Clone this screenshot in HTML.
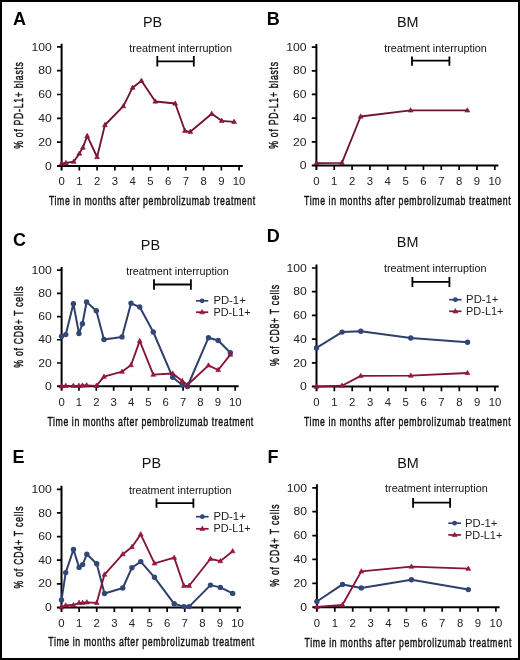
<!DOCTYPE html>
<html><head><meta charset="utf-8"><title>Figure</title>
<style>
html,body{margin:0;padding:0;background:#fff;}
body{width:520px;height:660px;overflow:hidden;}
svg{display:block;will-change:transform;}
text{font-family:"Liberation Sans", sans-serif;fill:#111;}
.let{font-size:18px;font-weight:700;fill:#000;}
.ttl{font-size:14.4px;fill:#111;}
.tk{font-size:10.6px;fill:#222;}
.lab{font-size:13.6px;fill:#111;stroke:#111;stroke-width:0.45px;}
.ti{font-size:10.8px;fill:#111;}
.lg{font-size:11.3px;fill:#222;}
.ax{stroke:#000;stroke-width:2;fill:none;}
.tick{stroke:#000;stroke-width:1.7;fill:none;}
.br{stroke:#000;stroke-width:1.8;fill:none;}
</style></head>
<body><svg width="520" height="660" viewBox="0 0 520 660">
<rect x="0" y="0" width="520" height="660" fill="#fff"/>
<g id="pA"><text x="13.1" y="24.5" class="let">A</text>
<text x="152.5" y="26.5" class="ttl" text-anchor="middle">PB</text>
<path class="ax" d="M61.6 43.8 V170.5 M57 165.9 H242.8"/>
<text transform="translate(51.8 169.6) scale(1.15 1)" class="tk" text-anchor="end">0</text>
<text transform="translate(51.8 145.8) scale(1.15 1)" class="tk" text-anchor="end">20</text>
<text transform="translate(51.8 122) scale(1.15 1)" class="tk" text-anchor="end">40</text>
<text transform="translate(51.8 98.2) scale(1.15 1)" class="tk" text-anchor="end">60</text>
<text transform="translate(51.8 74.4) scale(1.15 1)" class="tk" text-anchor="end">80</text>
<text transform="translate(51.8 50.6) scale(1.15 1)" class="tk" text-anchor="end">100</text>
<text transform="translate(61.6 185.2) scale(1.07 1)" class="tk" text-anchor="middle">0</text>
<text transform="translate(79.35 185.2) scale(1.07 1)" class="tk" text-anchor="middle">1</text>
<text transform="translate(97.1 185.2) scale(1.07 1)" class="tk" text-anchor="middle">2</text>
<text transform="translate(114.85 185.2) scale(1.07 1)" class="tk" text-anchor="middle">3</text>
<text transform="translate(132.6 185.2) scale(1.07 1)" class="tk" text-anchor="middle">4</text>
<text transform="translate(150.35 185.2) scale(1.07 1)" class="tk" text-anchor="middle">5</text>
<text transform="translate(168.1 185.2) scale(1.07 1)" class="tk" text-anchor="middle">6</text>
<text transform="translate(185.85 185.2) scale(1.07 1)" class="tk" text-anchor="middle">7</text>
<text transform="translate(203.6 185.2) scale(1.07 1)" class="tk" text-anchor="middle">8</text>
<text transform="translate(221.35 185.2) scale(1.07 1)" class="tk" text-anchor="middle">9</text>
<text transform="translate(239.1 185.2) scale(1.07 1)" class="tk" text-anchor="middle">10</text>
<path class="tick" d="M57 142.1 H61.6 M57 118.3 H61.6 M57 94.5 H61.6 M57 70.7 H61.6 M57 46.9 H61.6 M79.35 165.9 V170.5 M97.1 165.9 V170.5 M114.85 165.9 V170.5 M132.6 165.9 V170.5 M150.35 165.9 V170.5 M168.1 165.9 V170.5 M185.85 165.9 V170.5 M203.6 165.9 V170.5 M221.35 165.9 V170.5 M239.1 165.9 V170.5"/>
<text transform="translate(48.9 204.9) scale(0.64 1)" class="lab" textLength="322.19" lengthAdjust="spacing">Time in months after pembrolizumab treatment</text>
<text transform="translate(23.4 148.7) rotate(-90) scale(0.64 1)" class="lab" textLength="135.31" lengthAdjust="spacing">% of PD-L1+ blasts</text>
<text x="129.3" y="51.5" class="ti">treatment interruption</text>
<path class="br" d="M157.3 56.1 V66.5 M193.8 56.1 V66.5 M157.3 61.3 H193.8"/>
<path d="M61.6 163.7 L65.86 163 L73.67 161.7 L79.35 153.6 L82.9 147.6 L87.16 135.9 L97.1 157 L104.91 125 L123.37 106.2 L132.6 87.7 L141.47 80.8 L155.32 101.5 L175.2 103.5 L184.96 130.8 L190.29 131.8 L211.77 113.8 L221.7 120.8 L234.13 121.8" fill="none" stroke="#731333" stroke-width="1.85" stroke-linejoin="round"/>
<g fill="#8c1b3f" stroke="#731333" stroke-width="0.6"><path d="M61.6 161.02 L64 165.34 L59.2 165.34 Z"/><path d="M65.86 160.32 L68.26 164.64 L63.46 164.64 Z"/><path d="M73.67 159.02 L76.07 163.34 L71.27 163.34 Z"/><path d="M79.35 150.92 L81.75 155.24 L76.95 155.24 Z"/><path d="M82.9 144.92 L85.3 149.24 L80.5 149.24 Z"/><path d="M87.16 133.22 L89.56 137.54 L84.76 137.54 Z"/><path d="M97.1 154.32 L99.5 158.64 L94.7 158.64 Z"/><path d="M104.91 122.32 L107.31 126.64 L102.51 126.64 Z"/><path d="M123.37 103.52 L125.77 107.84 L120.97 107.84 Z"/><path d="M132.6 85.02 L135 89.34 L130.2 89.34 Z"/><path d="M141.47 78.12 L143.88 82.44 L139.07 82.44 Z"/><path d="M155.32 98.82 L157.72 103.14 L152.92 103.14 Z"/><path d="M175.2 100.82 L177.6 105.14 L172.8 105.14 Z"/><path d="M184.96 128.12 L187.36 132.44 L182.56 132.44 Z"/><path d="M190.29 129.12 L192.69 133.44 L187.89 133.44 Z"/><path d="M211.77 111.12 L214.17 115.44 L209.37 115.44 Z"/><path d="M221.7 118.12 L224.1 122.44 L219.3 122.44 Z"/><path d="M234.13 119.12 L236.53 123.44 L231.73 123.44 Z"/></g></g>
<g id="pB"><text x="266.8" y="24.5" class="let">B</text>
<text x="407.7" y="26.5" class="ttl" text-anchor="middle">BM</text>
<path class="ax" d="M316.4 44.1 V170.1 M311.8 165.5 H498.4"/>
<text transform="translate(306.6 169.2) scale(1.15 1)" class="tk" text-anchor="end">0</text>
<text transform="translate(306.6 145.52) scale(1.15 1)" class="tk" text-anchor="end">20</text>
<text transform="translate(306.6 121.84) scale(1.15 1)" class="tk" text-anchor="end">40</text>
<text transform="translate(306.6 98.16) scale(1.15 1)" class="tk" text-anchor="end">60</text>
<text transform="translate(306.6 74.48) scale(1.15 1)" class="tk" text-anchor="end">80</text>
<text transform="translate(306.6 50.8) scale(1.15 1)" class="tk" text-anchor="end">100</text>
<text transform="translate(316.4 184.8) scale(1.07 1)" class="tk" text-anchor="middle">0</text>
<text transform="translate(334.24 184.8) scale(1.07 1)" class="tk" text-anchor="middle">1</text>
<text transform="translate(352.08 184.8) scale(1.07 1)" class="tk" text-anchor="middle">2</text>
<text transform="translate(369.92 184.8) scale(1.07 1)" class="tk" text-anchor="middle">3</text>
<text transform="translate(387.76 184.8) scale(1.07 1)" class="tk" text-anchor="middle">4</text>
<text transform="translate(405.6 184.8) scale(1.07 1)" class="tk" text-anchor="middle">5</text>
<text transform="translate(423.44 184.8) scale(1.07 1)" class="tk" text-anchor="middle">6</text>
<text transform="translate(441.28 184.8) scale(1.07 1)" class="tk" text-anchor="middle">7</text>
<text transform="translate(459.12 184.8) scale(1.07 1)" class="tk" text-anchor="middle">8</text>
<text transform="translate(476.96 184.8) scale(1.07 1)" class="tk" text-anchor="middle">9</text>
<text transform="translate(494.8 184.8) scale(1.07 1)" class="tk" text-anchor="middle">10</text>
<path class="tick" d="M311.8 141.82 H316.4 M311.8 118.14 H316.4 M311.8 94.46 H316.4 M311.8 70.78 H316.4 M311.8 47.1 H316.4 M334.24 165.5 V170.1 M352.08 165.5 V170.1 M369.92 165.5 V170.1 M387.76 165.5 V170.1 M405.6 165.5 V170.1 M423.44 165.5 V170.1 M441.28 165.5 V170.1 M459.12 165.5 V170.1 M476.96 165.5 V170.1 M494.8 165.5 V170.1"/>
<text transform="translate(304.1 205.1) scale(0.64 1)" class="lab" textLength="322.81" lengthAdjust="spacing">Time in months after pembrolizumab treatment</text>
<text transform="translate(278.2 148.7) rotate(-90) scale(0.64 1)" class="lab" textLength="135.47" lengthAdjust="spacing">% of PD-L1+ blasts</text>
<text x="384.2" y="51.5" class="ti">treatment interruption</text>
<path class="br" d="M412 56.5 V65.7 M449.4 56.5 V65.7 M412 60.6 H449.4"/>
<path d="M316.4 163.2 L341.91 162.8 L360.64 116.5 L410.6 110.4 L467.33 110.4" fill="none" stroke="#731333" stroke-width="1.85" stroke-linejoin="round"/>
<g fill="#8c1b3f" stroke="#731333" stroke-width="0.6"><path d="M316.4 160.52 L318.8 164.84 L314 164.84 Z"/><path d="M341.91 160.12 L344.31 164.44 L339.51 164.44 Z"/><path d="M360.64 113.82 L363.04 118.14 L358.24 118.14 Z"/><path d="M410.6 107.72 L413 112.04 L408.2 112.04 Z"/><path d="M467.33 107.72 L469.73 112.04 L464.93 112.04 Z"/></g></g>
<g id="pC"><text x="13.1" y="245.5" class="let">C</text>
<text x="150.4" y="250.4" class="ttl" text-anchor="middle">PB</text>
<path class="ax" d="M61.6 266.9 V390.8 M57 386.2 H238.6"/>
<text transform="translate(51.8 389.9) scale(1.15 1)" class="tk" text-anchor="end">0</text>
<text transform="translate(51.8 366.68) scale(1.15 1)" class="tk" text-anchor="end">20</text>
<text transform="translate(51.8 343.46) scale(1.15 1)" class="tk" text-anchor="end">40</text>
<text transform="translate(51.8 320.24) scale(1.15 1)" class="tk" text-anchor="end">60</text>
<text transform="translate(51.8 297.02) scale(1.15 1)" class="tk" text-anchor="end">80</text>
<text transform="translate(51.8 273.8) scale(1.15 1)" class="tk" text-anchor="end">100</text>
<text transform="translate(61.6 405.5) scale(1.07 1)" class="tk" text-anchor="middle">0</text>
<text transform="translate(78.96 405.5) scale(1.07 1)" class="tk" text-anchor="middle">1</text>
<text transform="translate(96.32 405.5) scale(1.07 1)" class="tk" text-anchor="middle">2</text>
<text transform="translate(113.68 405.5) scale(1.07 1)" class="tk" text-anchor="middle">3</text>
<text transform="translate(131.04 405.5) scale(1.07 1)" class="tk" text-anchor="middle">4</text>
<text transform="translate(148.4 405.5) scale(1.07 1)" class="tk" text-anchor="middle">5</text>
<text transform="translate(165.76 405.5) scale(1.07 1)" class="tk" text-anchor="middle">6</text>
<text transform="translate(183.12 405.5) scale(1.07 1)" class="tk" text-anchor="middle">7</text>
<text transform="translate(200.48 405.5) scale(1.07 1)" class="tk" text-anchor="middle">8</text>
<text transform="translate(217.84 405.5) scale(1.07 1)" class="tk" text-anchor="middle">9</text>
<text transform="translate(235.2 405.5) scale(1.07 1)" class="tk" text-anchor="middle">10</text>
<path class="tick" d="M57 362.98 H61.6 M57 339.76 H61.6 M57 316.54 H61.6 M57 293.32 H61.6 M57 270.1 H61.6 M78.96 386.2 V390.8 M96.32 386.2 V390.8 M113.68 386.2 V390.8 M131.04 386.2 V390.8 M148.4 386.2 V390.8 M165.76 386.2 V390.8 M183.12 386.2 V390.8 M200.48 386.2 V390.8 M217.84 386.2 V390.8 M235.2 386.2 V390.8"/>
<text transform="translate(47.4 425.9) scale(0.64 1)" class="lab" textLength="321.72" lengthAdjust="spacing">Time in months after pembrolizumab treatment</text>
<text transform="translate(22.9 367.7) rotate(-90) scale(0.64 1)" class="lab" textLength="127.03" lengthAdjust="spacing">% of CD8+ T cells</text>
<text x="126.2" y="274.6" class="ti">treatment interruption</text>
<path class="br" d="M154 279.3 V289.7 M190.9 279.3 V289.7 M154 284.5 H190.9"/>
<path d="M61.6 336.2 L65.77 334.6 L73.4 303.8 L78.96 333.5 L82.43 323.8 L86.6 302 L96.32 310.8 L103.96 339.5 L122.01 336.9 L131.04 303.3 L139.72 307 L153.26 332 L172.7 377.3 L182.25 385 L187.46 386.5 L208.47 337.7 L218.19 340.5 L230.34 352.7" fill="none" stroke="#2e416b" stroke-width="2" stroke-linejoin="round"/>
<g fill="#324678"><circle cx="61.6" cy="336.2" r="2.7"/><circle cx="65.77" cy="334.6" r="2.7"/><circle cx="73.4" cy="303.8" r="2.7"/><circle cx="78.96" cy="333.5" r="2.7"/><circle cx="82.43" cy="323.8" r="2.7"/><circle cx="86.6" cy="302" r="2.7"/><circle cx="96.32" cy="310.8" r="2.7"/><circle cx="103.96" cy="339.5" r="2.7"/><circle cx="122.01" cy="336.9" r="2.7"/><circle cx="131.04" cy="303.3" r="2.7"/><circle cx="139.72" cy="307" r="2.7"/><circle cx="153.26" cy="332" r="2.7"/><circle cx="172.7" cy="377.3" r="2.7"/><circle cx="182.25" cy="385" r="2.7"/><circle cx="187.46" cy="386.5" r="2.7"/><circle cx="208.47" cy="337.7" r="2.7"/><circle cx="218.19" cy="340.5" r="2.7"/><circle cx="230.34" cy="352.7" r="2.7"/></g>
<path d="M61.6 386.2 L65.77 385.8 L73.4 385.8 L78.96 385.8 L82.43 385.5 L86.6 385.3 L96.32 385.8 L103.96 376.7 L122.01 371.7 L131.04 365.1 L139.72 340.9 L153.26 374.7 L172.7 373.5 L182.25 381 L187.46 385 L208.47 365.4 L218.19 370 L230.34 354.6" fill="none" stroke="#88123a" stroke-width="1.85" stroke-linejoin="round"/>
<g fill="#a6163f" stroke="#88123a" stroke-width="0.6"><path d="M61.6 383.52 L64 387.84 L59.2 387.84 Z"/><path d="M65.77 383.12 L68.17 387.44 L63.37 387.44 Z"/><path d="M73.4 383.12 L75.8 387.44 L71 387.44 Z"/><path d="M78.96 383.12 L81.36 387.44 L76.56 387.44 Z"/><path d="M82.43 382.82 L84.83 387.14 L80.03 387.14 Z"/><path d="M86.6 382.62 L89 386.94 L84.2 386.94 Z"/><path d="M96.32 383.12 L98.72 387.44 L93.92 387.44 Z"/><path d="M103.96 374.02 L106.36 378.34 L101.56 378.34 Z"/><path d="M122.01 369.02 L124.41 373.34 L119.61 373.34 Z"/><path d="M131.04 362.42 L133.44 366.74 L128.64 366.74 Z"/><path d="M139.72 338.22 L142.12 342.54 L137.32 342.54 Z"/><path d="M153.26 372.02 L155.66 376.34 L150.86 376.34 Z"/><path d="M172.7 370.82 L175.1 375.14 L170.3 375.14 Z"/><path d="M182.25 378.32 L184.65 382.64 L179.85 382.64 Z"/><path d="M187.46 382.32 L189.86 386.64 L185.06 386.64 Z"/><path d="M208.47 362.72 L210.87 367.04 L206.07 367.04 Z"/><path d="M218.19 367.32 L220.59 371.64 L215.79 371.64 Z"/><path d="M230.34 351.92 L232.74 356.24 L227.94 356.24 Z"/></g>
<path d="M196 300.8 H208.2" stroke="#2e416b" stroke-width="1.7"/>
<circle cx="202.1" cy="300.8" r="2.4" fill="#324678"/>
<path d="M196 312.2 H208.2" stroke="#88123a" stroke-width="1.7"/>
<g fill="#a6163f" stroke="#88123a" stroke-width="0.6"><path d="M202.1 309.52 L204.5 313.84 L199.7 313.84 Z"/></g>
<text x="213.4" y="304.4" class="lg">PD-1+</text>
<text x="213.4" y="315.8" class="lg" textLength="37.3" lengthAdjust="spacingAndGlyphs">PD-L1+</text></g>
<g id="pD"><text x="266.8" y="241.9" class="let">D</text>
<text x="407.6" y="247.4" class="ttl" text-anchor="middle">BM</text>
<path class="ax" d="M316.5 264.4 V391.2 M311.9 386.6 H498.7"/>
<text transform="translate(306.7 390.3) scale(1.15 1)" class="tk" text-anchor="end">0</text>
<text transform="translate(306.7 366.58) scale(1.15 1)" class="tk" text-anchor="end">20</text>
<text transform="translate(306.7 342.86) scale(1.15 1)" class="tk" text-anchor="end">40</text>
<text transform="translate(306.7 319.14) scale(1.15 1)" class="tk" text-anchor="end">60</text>
<text transform="translate(306.7 295.42) scale(1.15 1)" class="tk" text-anchor="end">80</text>
<text transform="translate(306.7 271.7) scale(1.15 1)" class="tk" text-anchor="end">100</text>
<text transform="translate(316.5 405.9) scale(1.07 1)" class="tk" text-anchor="middle">0</text>
<text transform="translate(334.35 405.9) scale(1.07 1)" class="tk" text-anchor="middle">1</text>
<text transform="translate(352.2 405.9) scale(1.07 1)" class="tk" text-anchor="middle">2</text>
<text transform="translate(370.05 405.9) scale(1.07 1)" class="tk" text-anchor="middle">3</text>
<text transform="translate(387.9 405.9) scale(1.07 1)" class="tk" text-anchor="middle">4</text>
<text transform="translate(405.75 405.9) scale(1.07 1)" class="tk" text-anchor="middle">5</text>
<text transform="translate(423.6 405.9) scale(1.07 1)" class="tk" text-anchor="middle">6</text>
<text transform="translate(441.45 405.9) scale(1.07 1)" class="tk" text-anchor="middle">7</text>
<text transform="translate(459.3 405.9) scale(1.07 1)" class="tk" text-anchor="middle">8</text>
<text transform="translate(477.15 405.9) scale(1.07 1)" class="tk" text-anchor="middle">9</text>
<text transform="translate(495 405.9) scale(1.07 1)" class="tk" text-anchor="middle">10</text>
<path class="tick" d="M311.9 362.88 H316.5 M311.9 339.16 H316.5 M311.9 315.44 H316.5 M311.9 291.72 H316.5 M311.9 268 H316.5 M334.35 386.6 V391.2 M352.2 386.6 V391.2 M370.05 386.6 V391.2 M387.9 386.6 V391.2 M405.75 386.6 V391.2 M423.6 386.6 V391.2 M441.45 386.6 V391.2 M459.3 386.6 V391.2 M477.15 386.6 V391.2 M495 386.6 V391.2"/>
<text transform="translate(304 425.9) scale(0.64 1)" class="lab" textLength="322.97" lengthAdjust="spacing">Time in months after pembrolizumab treatment</text>
<text transform="translate(278.8 365.9) rotate(-90) scale(0.64 1)" class="lab" textLength="126.56" lengthAdjust="spacing">% of CD8+ T cells</text>
<text x="383.9" y="272.3" class="ti">treatment interruption</text>
<path class="br" d="M412.4 276.9 V286.9 M449.4 276.9 V286.9 M412.4 281.8 H449.4"/>
<path d="M316.5 347.9 L342.03 332.1 L360.77 331.2 L410.75 338 L467.51 342.2" fill="none" stroke="#2e416b" stroke-width="2" stroke-linejoin="round"/>
<g fill="#324678"><circle cx="316.5" cy="347.9" r="2.7"/><circle cx="342.03" cy="332.1" r="2.7"/><circle cx="360.77" cy="331.2" r="2.7"/><circle cx="410.75" cy="338" r="2.7"/><circle cx="467.51" cy="342.2" r="2.7"/></g>
<path d="M316.5 386.6 L342.03 385.7 L360.77 375.9 L410.75 375.6 L467.51 373" fill="none" stroke="#88123a" stroke-width="1.85" stroke-linejoin="round"/>
<g fill="#a6163f" stroke="#88123a" stroke-width="0.6"><path d="M316.5 383.92 L318.9 388.24 L314.1 388.24 Z"/><path d="M342.03 383.02 L344.43 387.34 L339.63 387.34 Z"/><path d="M360.77 373.22 L363.17 377.54 L358.37 377.54 Z"/><path d="M410.75 372.92 L413.15 377.24 L408.35 377.24 Z"/><path d="M467.51 370.32 L469.91 374.64 L465.11 374.64 Z"/></g>
<path d="M449.2 299.7 H461.5" stroke="#2e416b" stroke-width="1.7"/>
<circle cx="455.35" cy="299.7" r="2.4" fill="#324678"/>
<path d="M449.2 311.3 H461.5" stroke="#88123a" stroke-width="1.7"/>
<g fill="#a6163f" stroke="#88123a" stroke-width="0.6"><path d="M455.35 308.62 L457.75 312.94 L452.95 312.94 Z"/></g>
<text x="466.1" y="303.3" class="lg">PD-1+</text>
<text x="466.1" y="314.9" class="lg" textLength="37.3" lengthAdjust="spacingAndGlyphs">PD-L1+</text></g>
<g id="pE"><text x="12.6" y="462.7" class="let">E</text>
<text x="151.4" y="468.1" class="ttl" text-anchor="middle">PB</text>
<path class="ax" d="M61.5 485.8 V612 M56.9 607.4 H241"/>
<text transform="translate(51.7 611.1) scale(1.15 1)" class="tk" text-anchor="end">0</text>
<text transform="translate(51.7 587.48) scale(1.15 1)" class="tk" text-anchor="end">20</text>
<text transform="translate(51.7 563.86) scale(1.15 1)" class="tk" text-anchor="end">40</text>
<text transform="translate(51.7 540.24) scale(1.15 1)" class="tk" text-anchor="end">60</text>
<text transform="translate(51.7 516.62) scale(1.15 1)" class="tk" text-anchor="end">80</text>
<text transform="translate(51.7 493) scale(1.15 1)" class="tk" text-anchor="end">100</text>
<text transform="translate(61.5 626.7) scale(1.07 1)" class="tk" text-anchor="middle">0</text>
<text transform="translate(79.11 626.7) scale(1.07 1)" class="tk" text-anchor="middle">1</text>
<text transform="translate(96.72 626.7) scale(1.07 1)" class="tk" text-anchor="middle">2</text>
<text transform="translate(114.33 626.7) scale(1.07 1)" class="tk" text-anchor="middle">3</text>
<text transform="translate(131.94 626.7) scale(1.07 1)" class="tk" text-anchor="middle">4</text>
<text transform="translate(149.55 626.7) scale(1.07 1)" class="tk" text-anchor="middle">5</text>
<text transform="translate(167.16 626.7) scale(1.07 1)" class="tk" text-anchor="middle">6</text>
<text transform="translate(184.77 626.7) scale(1.07 1)" class="tk" text-anchor="middle">7</text>
<text transform="translate(202.38 626.7) scale(1.07 1)" class="tk" text-anchor="middle">8</text>
<text transform="translate(219.99 626.7) scale(1.07 1)" class="tk" text-anchor="middle">9</text>
<text transform="translate(237.6 626.7) scale(1.07 1)" class="tk" text-anchor="middle">10</text>
<path class="tick" d="M56.9 583.78 H61.5 M56.9 560.16 H61.5 M56.9 536.54 H61.5 M56.9 512.92 H61.5 M56.9 489.3 H61.5 M79.11 607.4 V612 M96.72 607.4 V612 M114.33 607.4 V612 M131.94 607.4 V612 M149.55 607.4 V612 M167.16 607.4 V612 M184.77 607.4 V612 M202.38 607.4 V612 M219.99 607.4 V612 M237.6 607.4 V612"/>
<text transform="translate(48.3 646.2) scale(0.64 1)" class="lab" textLength="321.72" lengthAdjust="spacing">Time in months after pembrolizumab treatment</text>
<text transform="translate(22.8 588.6) rotate(-90) scale(0.64 1)" class="lab" textLength="128.44" lengthAdjust="spacing">% of CD4+ T cells</text>
<text x="128.9" y="494.3" class="ti">treatment interruption</text>
<path class="br" d="M156.5 498.5 V507.7 M193.4 498.5 V507.7 M156.5 503.1 H193.4"/>
<path d="M61.5 600 L65.73 572.6 L73.47 549.5 L79.11 567.4 L82.63 564.6 L86.86 554.3 L96.72 563.8 L104.47 593.5 L122.78 588 L131.94 567.7 L140.75 561.6 L154.48 577.3 L174.2 603.8 L183.89 606.6 L189.17 606.6 L210.48 585.1 L220.34 587.4 L232.67 593.4" fill="none" stroke="#2e416b" stroke-width="2" stroke-linejoin="round"/>
<g fill="#324678"><circle cx="61.5" cy="600" r="2.7"/><circle cx="65.73" cy="572.6" r="2.7"/><circle cx="73.47" cy="549.5" r="2.7"/><circle cx="79.11" cy="567.4" r="2.7"/><circle cx="82.63" cy="564.6" r="2.7"/><circle cx="86.86" cy="554.3" r="2.7"/><circle cx="96.72" cy="563.8" r="2.7"/><circle cx="104.47" cy="593.5" r="2.7"/><circle cx="122.78" cy="588" r="2.7"/><circle cx="131.94" cy="567.7" r="2.7"/><circle cx="140.75" cy="561.6" r="2.7"/><circle cx="154.48" cy="577.3" r="2.7"/><circle cx="174.2" cy="603.8" r="2.7"/><circle cx="183.89" cy="606.6" r="2.7"/><circle cx="189.17" cy="606.6" r="2.7"/><circle cx="210.48" cy="585.1" r="2.7"/><circle cx="220.34" cy="587.4" r="2.7"/><circle cx="232.67" cy="593.4" r="2.7"/></g>
<path d="M61.5 607.2 L65.73 605.4 L73.47 605 L79.11 602.8 L82.63 602.8 L86.86 602.3 L96.72 602.8 L104.47 574.6 L122.78 554.2 L131.94 547 L140.75 534.3 L154.48 563.4 L174.2 557.6 L183.89 585.8 L189.17 585.8 L210.48 558.8 L220.34 561.1 L232.67 551.2" fill="none" stroke="#88123a" stroke-width="1.85" stroke-linejoin="round"/>
<g fill="#a6163f" stroke="#88123a" stroke-width="0.6"><path d="M61.5 604.52 L63.9 608.84 L59.1 608.84 Z"/><path d="M65.73 602.72 L68.13 607.04 L63.33 607.04 Z"/><path d="M73.47 602.32 L75.87 606.64 L71.07 606.64 Z"/><path d="M79.11 600.12 L81.51 604.44 L76.71 604.44 Z"/><path d="M82.63 600.12 L85.03 604.44 L80.23 604.44 Z"/><path d="M86.86 599.62 L89.26 603.94 L84.46 603.94 Z"/><path d="M96.72 600.12 L99.12 604.44 L94.32 604.44 Z"/><path d="M104.47 571.92 L106.87 576.24 L102.07 576.24 Z"/><path d="M122.78 551.52 L125.18 555.84 L120.38 555.84 Z"/><path d="M131.94 544.32 L134.34 548.64 L129.54 548.64 Z"/><path d="M140.75 531.62 L143.15 535.94 L138.34 535.94 Z"/><path d="M154.48 560.72 L156.88 565.04 L152.08 565.04 Z"/><path d="M174.2 554.92 L176.6 559.24 L171.8 559.24 Z"/><path d="M183.89 583.12 L186.29 587.44 L181.49 587.44 Z"/><path d="M189.17 583.12 L191.57 587.44 L186.77 587.44 Z"/><path d="M210.48 556.12 L212.88 560.44 L208.08 560.44 Z"/><path d="M220.34 558.42 L222.74 562.74 L217.94 562.74 Z"/><path d="M232.67 548.52 L235.07 552.84 L230.27 552.84 Z"/></g>
<path d="M196 516.7 H208.6" stroke="#2e416b" stroke-width="1.7"/>
<circle cx="202.3" cy="516.7" r="2.4" fill="#324678"/>
<path d="M196 528.8 H208.6" stroke="#88123a" stroke-width="1.7"/>
<g fill="#a6163f" stroke="#88123a" stroke-width="0.6"><path d="M202.3 526.12 L204.7 530.44 L199.9 530.44 Z"/></g>
<text x="213.4" y="520.3" class="lg">PD-1+</text>
<text x="213.4" y="532.4" class="lg" textLength="37.3" lengthAdjust="spacingAndGlyphs">PD-L1+</text></g>
<g id="pF"><text x="267.6" y="462.7" class="let">F</text>
<text x="408" y="468" class="ttl" text-anchor="middle">BM</text>
<path class="ax" d="M316.9 484.2 V611.8 M312.3 607.2 H499.6"/>
<text transform="translate(307.1 610.9) scale(1.15 1)" class="tk" text-anchor="end">0</text>
<text transform="translate(307.1 587.02) scale(1.15 1)" class="tk" text-anchor="end">20</text>
<text transform="translate(307.1 563.14) scale(1.15 1)" class="tk" text-anchor="end">40</text>
<text transform="translate(307.1 539.26) scale(1.15 1)" class="tk" text-anchor="end">60</text>
<text transform="translate(307.1 515.38) scale(1.15 1)" class="tk" text-anchor="end">80</text>
<text transform="translate(307.1 491.5) scale(1.15 1)" class="tk" text-anchor="end">100</text>
<text transform="translate(316.9 626.5) scale(1.07 1)" class="tk" text-anchor="middle">0</text>
<text transform="translate(334.8 626.5) scale(1.07 1)" class="tk" text-anchor="middle">1</text>
<text transform="translate(352.7 626.5) scale(1.07 1)" class="tk" text-anchor="middle">2</text>
<text transform="translate(370.6 626.5) scale(1.07 1)" class="tk" text-anchor="middle">3</text>
<text transform="translate(388.5 626.5) scale(1.07 1)" class="tk" text-anchor="middle">4</text>
<text transform="translate(406.4 626.5) scale(1.07 1)" class="tk" text-anchor="middle">5</text>
<text transform="translate(424.3 626.5) scale(1.07 1)" class="tk" text-anchor="middle">6</text>
<text transform="translate(442.2 626.5) scale(1.07 1)" class="tk" text-anchor="middle">7</text>
<text transform="translate(460.1 626.5) scale(1.07 1)" class="tk" text-anchor="middle">8</text>
<text transform="translate(478 626.5) scale(1.07 1)" class="tk" text-anchor="middle">9</text>
<text transform="translate(495.9 626.5) scale(1.07 1)" class="tk" text-anchor="middle">10</text>
<path class="tick" d="M312.3 583.32 H316.9 M312.3 559.44 H316.9 M312.3 535.56 H316.9 M312.3 511.68 H316.9 M312.3 487.8 H316.9 M334.8 607.2 V611.8 M352.7 607.2 V611.8 M370.6 607.2 V611.8 M388.5 607.2 V611.8 M406.4 607.2 V611.8 M424.3 607.2 V611.8 M442.2 607.2 V611.8 M460.1 607.2 V611.8 M478 607.2 V611.8 M495.9 607.2 V611.8"/>
<text transform="translate(304.6 646.5) scale(0.64 1)" class="lab" textLength="322.97" lengthAdjust="spacing">Time in months after pembrolizumab treatment</text>
<text transform="translate(278.8 586.8) rotate(-90) scale(0.64 1)" class="lab" textLength="128.59" lengthAdjust="spacing">% of CD4+ T cells</text>
<text x="385.1" y="491.5" class="ti">treatment interruption</text>
<path class="br" d="M413.1 498 V507.7 M450.1 498 V507.7 M413.1 502.6 H450.1"/>
<path d="M316.9 601.5 L342.5 584.4 L361.29 587.9 L411.41 579.7 L468.33 589.6" fill="none" stroke="#2e416b" stroke-width="2" stroke-linejoin="round"/>
<g fill="#324678"><circle cx="316.9" cy="601.5" r="2.7"/><circle cx="342.5" cy="584.4" r="2.7"/><circle cx="361.29" cy="587.9" r="2.7"/><circle cx="411.41" cy="579.7" r="2.7"/><circle cx="468.33" cy="589.6" r="2.7"/></g>
<path d="M316.9 607 L342.5 604.8 L361.29 571.4 L411.41 566.6 L468.33 568.7" fill="none" stroke="#88123a" stroke-width="1.85" stroke-linejoin="round"/>
<g fill="#a6163f" stroke="#88123a" stroke-width="0.6"><path d="M316.9 604.32 L319.3 608.64 L314.5 608.64 Z"/><path d="M342.5 602.12 L344.9 606.44 L340.1 606.44 Z"/><path d="M361.29 568.72 L363.69 573.04 L358.89 573.04 Z"/><path d="M411.41 563.92 L413.81 568.24 L409.01 568.24 Z"/><path d="M468.33 566.02 L470.73 570.34 L465.93 570.34 Z"/></g>
<path d="M448.3 523.2 H460.9" stroke="#2e416b" stroke-width="1.7"/>
<circle cx="454.6" cy="523.2" r="2.4" fill="#324678"/>
<path d="M448.3 534.9 H460.9" stroke="#88123a" stroke-width="1.7"/>
<g fill="#a6163f" stroke="#88123a" stroke-width="0.6"><path d="M454.6 532.22 L457 536.54 L452.2 536.54 Z"/></g>
<text x="465" y="526.8" class="lg">PD-1+</text>
<text x="465" y="538.5" class="lg" textLength="37.3" lengthAdjust="spacingAndGlyphs">PD-L1+</text></g>
<rect x="1" y="1" width="518" height="658" fill="none" stroke="#000" stroke-width="2"/>
</svg></body></html>
